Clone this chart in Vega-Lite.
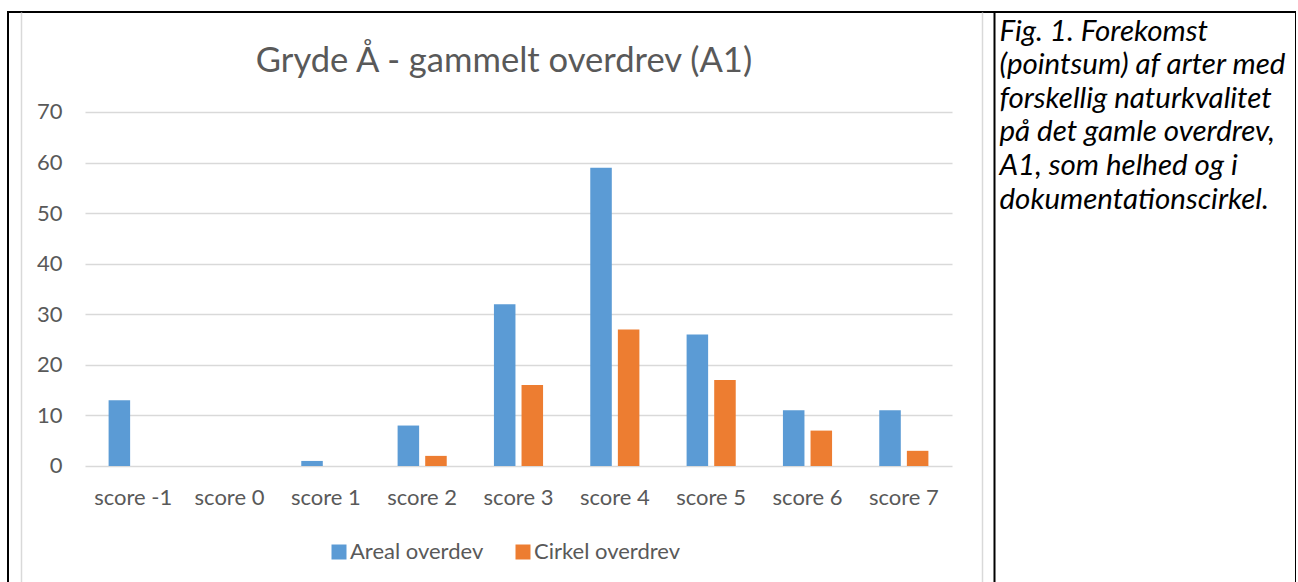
{
  "$schema": "https://vega.github.io/schema/vega-lite/v6.json",
  "padding": {"left": 8, "top": 12, "right": 0, "bottom": 0},
  "background": "white",
  "width": 1288,
  "height": 580,
  "view": {"stroke": "black", "strokeWidth": 2},
  "config": {"font": "Lato"},
  "title": {
    "text": "Gryde Å - gammelt overdrev (A1)",
    "frame": "group",
    "anchor": "middle",
    "offset": -68,
    "dx": -148,
    "fontSize": 34.6,
    "fontWeight": "normal",
    "color": "#595959",
    "font": "Lato"
  },
  "data": {
    "values": [
      {"score": "score -1", "series": "Areal overdev", "value": 13},
      {"score": "score -1", "series": "Cirkel overdrev", "value": 0},
      {"score": "score 0", "series": "Areal overdev", "value": 0},
      {"score": "score 0", "series": "Cirkel overdrev", "value": 0},
      {"score": "score 1", "series": "Areal overdev", "value": 1},
      {"score": "score 1", "series": "Cirkel overdrev", "value": 0},
      {"score": "score 2", "series": "Areal overdev", "value": 8},
      {"score": "score 2", "series": "Cirkel overdrev", "value": 2},
      {"score": "score 3", "series": "Areal overdev", "value": 32},
      {"score": "score 3", "series": "Cirkel overdrev", "value": 16},
      {"score": "score 4", "series": "Areal overdev", "value": 59},
      {"score": "score 4", "series": "Cirkel overdrev", "value": 27},
      {"score": "score 5", "series": "Areal overdev", "value": 26},
      {"score": "score 5", "series": "Cirkel overdrev", "value": 17},
      {"score": "score 6", "series": "Areal overdev", "value": 11},
      {"score": "score 6", "series": "Cirkel overdrev", "value": 7},
      {"score": "score 7", "series": "Areal overdev", "value": 11},
      {"score": "score 7", "series": "Cirkel overdrev", "value": 3}
    ]
  },
  "layer": [
    {
      "mark": {"type": "bar"},
      "encoding": {
        "x": {
          "field": "score",
          "type": "nominal",
          "sort": ["score -1", "score 0", "score 1", "score 2", "score 3", "score 4", "score 5", "score 6", "score 7"],
          "scale": {"range": [77, 944], "paddingInner": 0.49, "paddingOuter": 0.245},
          "axis": {
            "orient": "bottom",
            "offset": -126,
            "title": null,
            "domain": false,
            "ticks": false,
            "grid": false,
            "labelAngle": 0,
            "labelFontSize": 22,
            "labelColor": "#595959",
            "labelPadding": 21
          }
        },
        "xOffset": {
          "field": "series",
          "type": "nominal",
          "sort": ["Areal overdev", "Cirkel overdrev"],
          "scale": {"paddingInner": 0.22, "paddingOuter": 0}
        },
        "y": {
          "field": "value",
          "type": "quantitative",
          "scale": {"domain": [-24.916, 89.774], "nice": false, "zero": false},
          "axis": {
            "orient": "left",
            "offset": -77,
            "title": null,
            "domain": false,
            "ticks": false,
            "grid": true,
            "gridColor": "#d9d9d9",
            "gridWidth": 1.3,
            "values": [0, 10, 20, 30, 40, 50, 60, 70],
            "labelFontSize": 22,
            "labelColor": "#595959",
            "labelPadding": 23
          }
        },
        "color": {
          "field": "series",
          "type": "nominal",
          "sort": ["Areal overdev", "Cirkel overdrev"],
          "scale": {"domain": ["Areal overdev", "Cirkel overdrev"], "range": ["#5b9bd5", "#ed7d31"]},
          "legend": {
            "orient": "none",
            "legendX": 320,
            "legendY": 529,
            "direction": "horizontal",
            "title": null,
            "symbolType": "square",
            "symbolSize": 225,
            "symbolStrokeWidth": 0,
            "symbolOpacity": 1,
            "labelFontSize": 22,
            "labelColor": "#595959",
            "labelOffset": 0,
            "columnPadding": 28,
            "padding": 0
          }
        }
      }
    },
    {
      "mark": {"type": "point", "opacity": 0},
      "encoding": {
        "y": {
          "field": "value",
          "type": "quantitative",
          "axis": {"orient": "left", "offset": -13, "title": null, "labels": false, "ticks": false, "grid": false, "domainColor": "#d9d9d9", "domainWidth": 1.5}
        }
      }
    },
    {
      "mark": {"type": "point", "opacity": 0},
      "encoding": {
        "y": {
          "field": "value",
          "type": "quantitative",
          "axis": {"orient": "right", "offset": -314, "title": null, "labels": false, "ticks": false, "grid": false, "domainColor": "#d9d9d9", "domainWidth": 1.5}
        }
      }
    },
    {
      "mark": {"type": "point", "opacity": 0},
      "encoding": {
        "y": {
          "field": "value",
          "type": "quantitative",
          "axis": {
            "orient": "right",
            "offset": -302,
            "labels": false,
            "ticks": false,
            "grid": false,
            "domainColor": "black",
            "domainWidth": 2,
            "title": ["Fig. 1. Forekomst", "(pointsum) af arter med", "forskellig naturkvalitet", "på det gamle overdrev,", "A1, som helhed og i", "dokumentationscirkel."],
            "titleAngle": 0,
            "titleAlign": "left",
            "titleBaseline": "alphabetic",
            "titleX": 5,
            "titleY": 28,
            "titleFont": "Lato",
            "titleFontSize": 29.5,
            "titleFontStyle": "italic",
            "titleFontWeight": "normal",
            "titleColor": "black",
            "titleLineHeight": 33.6
          }
        }
      }
    }
  ],
  "resolve": {"axis": {"y": "independent"}}
}
